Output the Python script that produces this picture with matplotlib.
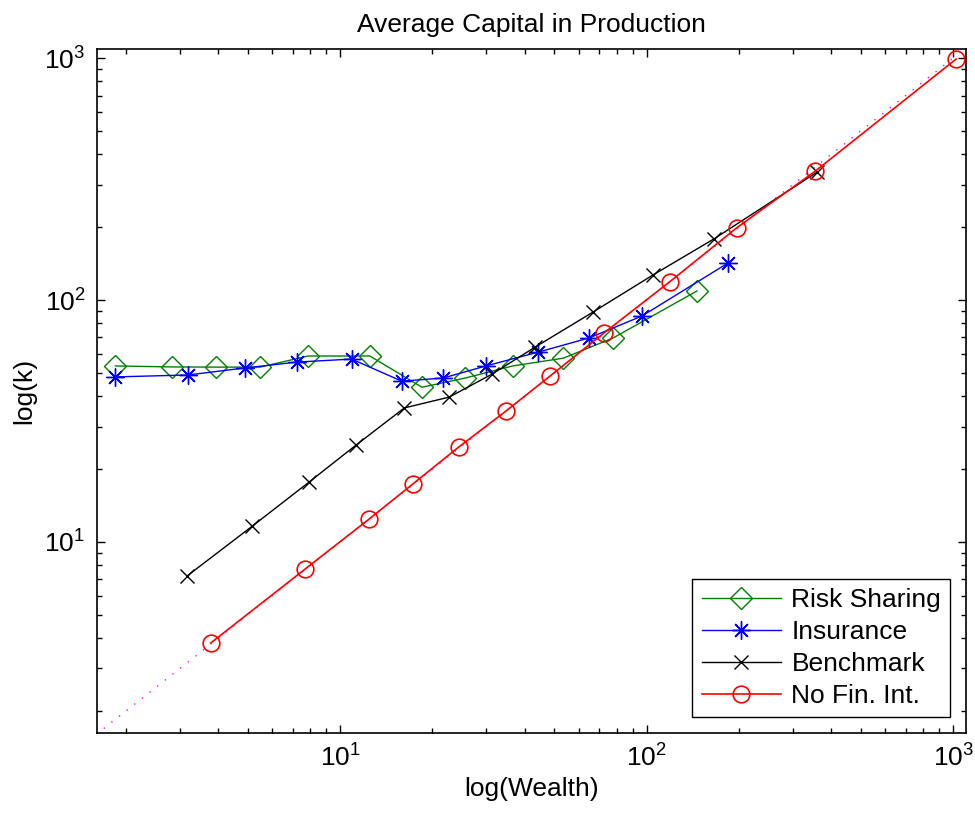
import matplotlib
matplotlib.use("Agg")
import matplotlib.pyplot as plt
from matplotlib.ticker import FixedLocator, FixedFormatter, LogLocator, NullFormatter

plt.rcParams['font.family'] = ['Liberation Sans', 'DejaVu Sans']
plt.rcParams['mathtext.default'] = 'regular'

# Data
rs_w = [1.85, 2.83, 3.94, 5.48, 7.87, 12.5, 18.5, 25.6, 36.6, 53.5, 77.8, 146]
rs_k = [53.4, 52.9, 52.8, 52.8, 58.7, 58.7, 43.6, 47.6, 53.4, 57.5, 69.7, 109]

ins_w = [1.85, 3.19, 4.90, 7.24, 10.9, 15.9, 21.7, 29.9, 44.3, 64.9, 96.6, 184]
ins_k = [48.1, 49.0, 52.4, 55.4, 57.0, 46.2, 47.6, 53.4, 60.9, 69.7, 85.9, 142]

bm_w = [3.17, 5.16, 7.93, 11.3, 16.2, 22.7, 31.3, 43.3, 66.8, 105, 166, 360]
bm_k = [7.24, 11.6, 17.7, 25.2, 35.8, 39.7, 49.4, 63.9, 89.1, 127, 179, 338]

nf_w = [3.79, 7.69, 12.4, 17.3, 24.4, 34.8, 48.4, 72.6, 119, 197, 355, 1023]
nf_k = [3.83, 7.73, 12.4, 17.4, 24.7, 34.8, 48.5, 73.1, 119, 199, 341, 991]

diag = [1.6, 1023]

decades = [10, 100, 1000]
decade_labels = ['$10^{1}$', '$10^{2}$', '$10^{3}$']

FS = 19

fig = plt.figure(figsize=(9.75, 8.18), dpi=100)
ax = fig.add_axes([0.099, 0.104, 0.892, 0.836])

ax.plot(diag, diag, linestyle=(0, (1, 6)), color='magenta', linewidth=1.0)
l1, = ax.plot(rs_w, rs_k, color='#008000', linewidth=1.0, marker='D', markersize=11,
              markerfacecolor='none', markeredgecolor='#008000', markeredgewidth=1.0,
              label='Risk Sharing')
l2, = ax.plot(ins_w, ins_k, color='blue', linewidth=1.0, marker=(8, 2, 0), markersize=13,
              markeredgecolor='blue', markeredgewidth=1.0, label='Insurance')
l3, = ax.plot(bm_w, bm_k, color='black', linewidth=1.0, marker='x', markersize=10,
              markeredgewidth=1.0, label='Benchmark')
l4, = ax.plot(nf_w, nf_k, color='red', linewidth=1.2, marker='o', markersize=12,
              markerfacecolor='none', markeredgecolor='red', markeredgewidth=1.2,
              label='No Fin. Int.')

ax.set_xscale('log')
ax.set_yscale('log')
ax.set_xlim(1.605, 1103)
ax.set_ylim(1.625, 1089)

for axis in (ax.xaxis, ax.yaxis):
    axis.set_major_locator(FixedLocator(decades))
    axis.set_major_formatter(FixedFormatter(decade_labels))
    axis.set_minor_locator(LogLocator(base=10, subs=range(2, 10), numticks=20))
    axis.set_minor_formatter(NullFormatter())

ax.tick_params(which='both', direction='in', top=True, right=True, labelsize=FS, width=1.0)
ax.tick_params(which='major', length=6, pad=8)
ax.tick_params(which='minor', length=3.5)
for s in ax.spines.values():
    s.set_linewidth(1.2)

ax.set_title('Average Capital in Production', fontsize=FS, pad=12)
ax.set_xlabel('log(Wealth)', fontsize=FS, labelpad=4)
ax.set_ylabel('log(k)', fontsize=FS, labelpad=6)

leg = ax.legend(handles=[l1, l2, l3, l4], loc='lower right', fontsize=FS,
                frameon=True, fancybox=False, edgecolor='black', framealpha=1,
                handlelength=3.0, handletextpad=0.4, labelspacing=0.3,
                borderpad=0.35, borderaxespad=0.6)
leg.get_frame().set_linewidth(1.0)

fig.savefig('out.png', dpi=100)
